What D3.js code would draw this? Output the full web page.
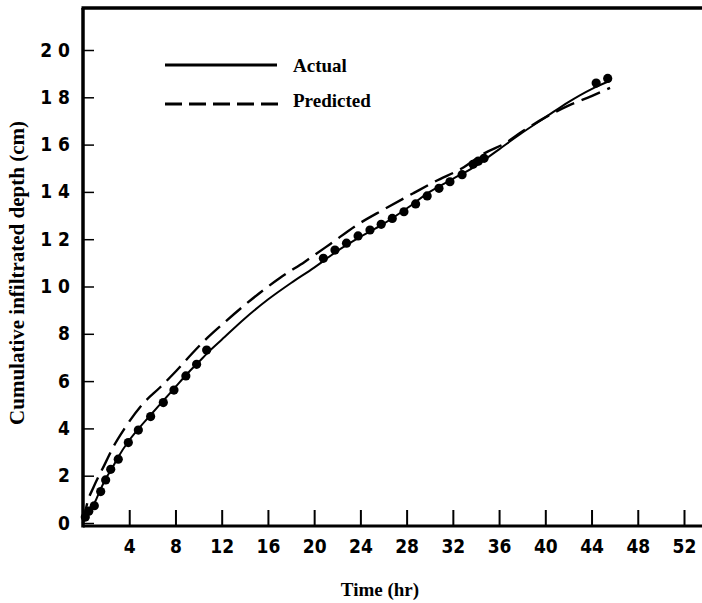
<!DOCTYPE html>
<html><head><meta charset="utf-8">
<script src="https://cdn.jsdelivr.net/npm/d3@7"></script>
<style>body{margin:0;background:#fff}svg{display:block}</style>
</head><body>
<svg id="c" width="702" height="603"></svg>
<script>
// ---- data ----
const pointTime  = [0.2, 0.5, 0.98, 1.53, 1.96, 2.4, 3.05, 3.92, 4.79, 5.85, 6.95, 7.87, 8.9, 9.83, 10.7,
  20.8, 21.8, 22.8, 23.8, 24.83, 25.8, 26.76, 27.77, 28.78, 29.78, 30.8, 31.75, 32.8, 33.75, 34.2, 34.7, 44.4, 45.4];
const pointDepth = [0.25, 0.5, 0.73, 1.33, 1.82, 2.27, 2.7, 3.4, 3.93, 4.5, 5.09, 5.62, 6.22, 6.71, 7.31,
  11.19, 11.54, 11.83, 12.14, 12.39, 12.63, 12.88, 13.16, 13.49, 13.83, 14.15, 14.43, 14.73, 15.17, 15.3, 15.42, 18.6, 18.8];
const actualTime  = [0, 0.3, 1, 1.5, 2, 2.5, 3, 4, 5, 6, 7, 8, 9, 10, 11, 12, 14, 16, 18, 20, 21, 22, 24, 26, 28, 30, 32, 34, 35, 36, 38, 40, 42, 44, 45.6];
const actualDepth = [0, 0.45, 0.85, 1.4, 1.9, 2.3, 2.75, 3.5, 4.1, 4.65, 5.2, 5.75, 6.3, 6.8, 7.3, 7.75, 8.65, 9.45, 10.15, 10.8, 11.15, 11.5, 12.1, 12.65, 13.3, 14.0, 14.55, 15.1, 15.45, 15.8, 16.5, 17.15, 17.8, 18.35, 18.7];
const predTime  = [0, 0.4, 0.9, 1.9, 2.6, 3.6, 5.2, 6.7, 8.1, 9.5, 10.8, 12.4, 14.2, 17, 19.2, 21.4, 23.7, 26, 28.6, 30.5, 32.8, 34.8, 36.5, 38, 40, 42, 44, 45.6];
const predDepth = [0, 0.9, 1.5, 2.5, 3.2, 4.0, 5.05, 5.75, 6.45, 7.2, 7.85, 8.55, 9.3, 10.35, 11.05, 11.8, 12.6, 13.25, 13.95, 14.45, 15.0, 15.65, 16.05, 16.55, 17.15, 17.65, 18.05, 18.4];
const xTicks = [4, 8, 12, 16, 20, 24, 28, 32, 36, 40, 44, 48, 52];
const yTicks = [0, 2, 4, 6, 8, 10, 12, 14, 16, 18, 20];
const seriesNames = ["Actual", "Predicted"];

// ---- chart ----
const W = 702, H = 603;
const svg = d3.select("#c");
const x = d3.scaleLinear().domain([0, 52]).range([83, 684]);
const y = d3.scaleLinear().domain([0, 20]).range([523, 50]);
const tickFont = "'DejaVu Sans Condensed','DejaVu Sans',sans-serif";
const serif = "'Liberation Serif','Times New Roman',serif";

// x axis
const gx = svg.append("g").attr("transform", "translate(0,525)")
  .call(d3.axisBottom(x).tickValues(xTicks).tickSizeInner(-15).tickSizeOuter(0).tickPadding(15).tickFormat(d3.format("d")));
gx.select(".domain").remove();
gx.selectAll(".tick line").attr("stroke", "#000").attr("stroke-width", 2);
gx.selectAll(".tick text").attr("font-family", tickFont).attr("font-weight", "bold").attr("font-size", 19).attr("fill", "#000");

// y axis
const gy = svg.append("g").attr("transform", "translate(83,0)")
  .call(d3.axisLeft(y).tickValues(yTicks).tickSizeInner(-11).tickSizeOuter(0).tickPadding(13)
    .tickFormat(d => String(d).split("").join(" ")));
gy.select(".domain").remove();
gy.selectAll(".tick line").attr("stroke", "#000").attr("stroke-width", 1.5);
gy.selectAll(".tick text").attr("font-family", tickFont).attr("font-weight", "bold").attr("font-size", 19).attr("fill", "#000")
  .style("white-space", "pre");

// frame lines
svg.append("line").attr("x1", x.range()[0]).attr("x2", W).attr("y1", 526).attr("y2", 526).attr("stroke", "#000").attr("stroke-width", 3);
svg.append("line").attr("x1", x.range()[0]).attr("x2", x.range()[0]).attr("y1", 8).attr("y2", 527.5).attr("stroke", "#000").attr("stroke-width", 3.5);
svg.append("line").attr("x1", x.range()[0] - 1.5).attr("x2", W).attr("y1", 8).attr("y2", 8).attr("stroke", "#000").attr("stroke-width", 3.5);

// lines
const line = d3.line().x(d => x(d[0])).y(d => y(d[1])).curve(d3.curveMonotoneX);
const actual = actualTime.map((t, i) => [t, actualDepth[i]]);
const pred = predTime.map((t, i) => [t, predDepth[i]]);
svg.append("path").datum(pred).attr("d", line).attr("fill", "none").attr("stroke", "#000")
  .attr("stroke-width", 2.4).attr("stroke-dasharray", "20,8");
svg.append("path").datum(actual).attr("d", line).attr("fill", "none").attr("stroke", "#000").attr("stroke-width", 2);

// points
svg.append("g").selectAll("circle").data(pointTime.map((t, i) => [t, pointDepth[i]])).join("circle")
  .attr("cx", d => x(d[0])).attr("cy", d => y(d[1])).attr("r", 4.6).attr("fill", "#000");

// legend
const lg = svg.append("g");
lg.append("line").attr("x1", 165).attr("x2", 277).attr("y1", 65).attr("y2", 65).attr("stroke", "#000").attr("stroke-width", 3);
lg.append("line").attr("x1", 165).attr("x2", 280).attr("y1", 104).attr("y2", 104).attr("stroke", "#000").attr("stroke-width", 3).attr("stroke-dasharray", "17,7");
lg.append("text").attr("x", 293).attr("y", 72).text(seriesNames[0]);
lg.append("text").attr("x", 293).attr("y", 107).text(seriesNames[1]);
lg.selectAll("text").attr("font-family", serif).attr("font-weight", "bold").attr("font-size", 19).attr("fill", "#000");

// axis titles
svg.append("text").attr("transform", "translate(24,273) rotate(-90)").attr("text-anchor", "middle")
  .attr("font-family", serif).attr("font-weight", "bold").attr("font-size", 21).text("Cumulative infiltrated depth (cm)");
svg.append("text").attr("x", 380).attr("y", 596).attr("text-anchor", "middle")
  .attr("font-family", serif).attr("font-weight", "bold").attr("font-size", 19).text("Time (hr)");
</script>
</body></html>
